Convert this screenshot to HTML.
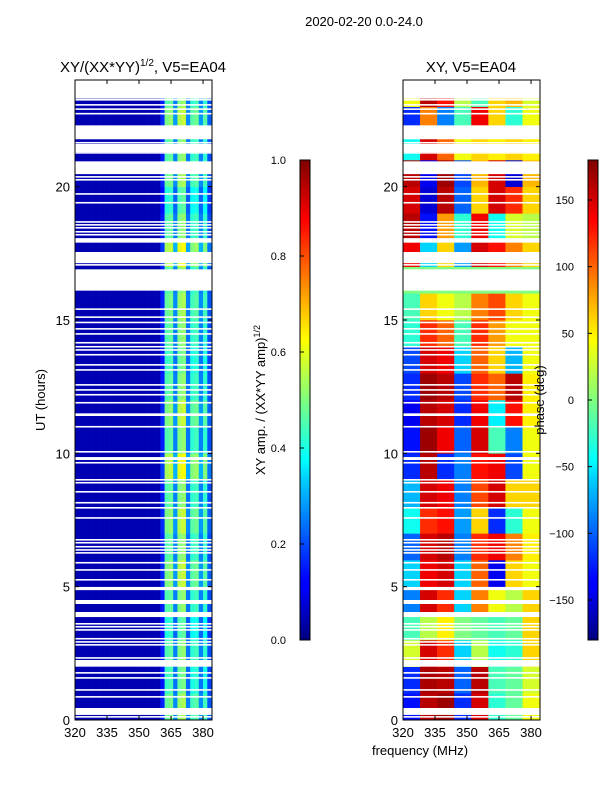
<!DOCTYPE html>
<html><head><meta charset="utf-8"><style>
body{margin:0;background:#fff;}
svg{display:block;font-family:"Liberation Sans",sans-serif;}
</style></head><body>
<svg id="fig" width="600" height="800" xmlns="http://www.w3.org/2000/svg">
<defs>
<linearGradient id="jet" x1="0" y1="1" x2="0" y2="0">
<stop offset="0" stop-color="#00007f"/><stop offset="0.11" stop-color="#0000ff"/><stop offset="0.125" stop-color="#0000ff"/>
<stop offset="0.34" stop-color="#00d4ff"/><stop offset="0.375" stop-color="#00ffff"/><stop offset="0.5" stop-color="#7fff7f"/>
<stop offset="0.625" stop-color="#ffff00"/><stop offset="0.66" stop-color="#ffdd00"/><stop offset="0.875" stop-color="#ff0000"/><stop offset="1" stop-color="#7f0000"/>
</linearGradient>
</defs>
<text x="364" y="26" font-size="13" text-anchor="middle">2020-02-20 0.0-24.0</text>
<text x="143" y="72" font-size="15" text-anchor="middle">XY/(XX*YY)<tspan font-size="10" dy="-6">1/2</tspan><tspan dy="6">, V5=EA04</tspan></text>
<text x="471" y="72" font-size="15" text-anchor="middle">XY, V5=EA04</text>
<text transform="translate(45,400) rotate(-90)" font-size="13" text-anchor="middle">UT (hours)</text>
<text transform="translate(265,400) rotate(-90)" font-size="13" text-anchor="middle">XY amp. / (XX*YY amp)<tspan font-size="9" dy="-5">1/2</tspan></text>
<text x="420" y="755" font-size="13" text-anchor="middle">frequency (MHz)</text>
<g id="amp"></g>
<g id="ph"></g>
<g id="axes"></g>
<text transform="translate(544,400) rotate(-90)" font-size="13" text-anchor="middle">phase (deg)</text>
</svg>
<script>
const freqTicks=[320,335,350,365,380];
const hourTicks=[0,5,10,15,20];
const ampTicks=[0.0,0.2,0.4,0.6,0.8,1.0];
const phaseTicks=[-150,-100,-50,0,50,100,150];
// amplitude spectral profile, 2 MHz bins from 320 to 384
const ampProfile=[0.05,0.05,0.05,0.05,0.05,0.05,0.05,0.05,0.05,0.05,0.05,0.05,0.05,0.05,0.05,0.05,0.05,0.05,0.05,0.05,0.15,0.45,0.47,0.25,0.5,0.52,0.24,0.42,0.44,0.25,0.42,0.2];
// hourly amplitude scale factor (hour 0..23)
const ampHourScale=[1.05,0.95,1.0,0.9,1.0,1.1,1.0,1.1,1.0,1.2,1.0,1.1,1.0,0.95,1.0,1.05,1.0,1.2,1.0,0.9,1.05,1.0,1.1,1.0];
// phase (deg), rows hour 0..23, cols 8 MHz bins 320..384
const phaseGrid=[
[-130,160,170,-120,150,-30,-10,40],
[-120,165,160,-100,160,-20,-10,30],
[30,150,120,-60,20,-40,-30,60],
[-20,20,50,0,-10,-20,-10,60],
[-90,150,120,-60,90,40,20,60],
[-60,140,150,-60,100,-140,60,40],
[-100,150,160,-90,120,140,90,50],
[-40,120,130,-80,60,-120,-30,40],
[-70,150,140,-90,110,150,60,60],
[-120,160,-120,-90,130,140,-110,40],
[-130,170,140,-100,150,-20,-90,40],
[-140,160,150,-120,140,-50,130,50],
[-120,170,160,-110,120,100,160,50],
[-110,150,140,-60,100,60,-70,40],
[-30,120,100,-20,120,80,40,40],
[-20,60,40,20,90,110,60,40],
[0,0,0,0,0,0,0,0],
[140,-60,60,-80,150,130,90,60],
[160,-130,80,-30,140,-40,30,20],
[150,-150,160,-100,60,150,120,60],
[160,-140,170,-110,70,150,-150,70],
[-40,150,100,40,60,50,60,50],
[-120,90,-90,-20,140,60,-30,40],
[40,160,130,20,-20,60,70,30]];
// flagged (blank) time intervals [start,end] hours
const flagStart=[23.3,21.8,21.3,20.47,17.9,17.13,16.1,11.4,9.75,4.87,4.35,3.86,2.0,0.19];
const flagEnd=[24.0,22.3,21.6,20.95,18.07,17.55,16.9,11.5,9.86,4.99,4.5,4.05,2.25,0.45];
// thin flagged integrations (hours)
const flagLines=[23.25,23.06,22.9,22.73,22.0,21.9,21.8,21.64,21.26,20.36,20.25,19.72,19.39,18.67,18.56,18.45,18.3,18.19,17.06,15.4,15.1,14.9,14.66,14.47,14.14,13.99,13.87,13.69,13.31,13.12,12.56,12.37,12.19,11.89,10.99,10.05,9.64,9.0,8.89,8.55,8.14,7.95,7.57,6.75,6.64,6.49,6.37,6.26,5.89,5.62,5.25,3.6,3.49,3.37,3.04,2.92,2.81,2.32,1.76,1.57,1.12,0.86,0.37,0.26,0.11];

const NS='http://www.w3.org/2000/svg';
const yTop=80,yBot=720,fmin=320,fmax=384.2;
const yH=h=>yBot-(h/24)*(yBot-yTop);
function xF(x0,x1,f){return x0+(f-fmin)/(fmax-fmin)*(x1-x0);}
function jet(v){v=Math.max(0,Math.min(1,v));const c=t=>Math.round(255*Math.max(0,Math.min(1,1.5-Math.abs(4*v-t))));return `rgb(${c(3)},${c(2)},${c(1)})`;}
function mk(tag,attrs,parent){const e=document.createElementNS(NS,tag);for(const k in attrs)e.setAttribute(k,attrs[k]);parent.appendChild(e);return e;}
const ampG=document.getElementById('amp'),phG=document.getElementById('ph'),axesG=document.getElementById('axes');
const L0=75,L1=212,R0=403,R1=540;
for(let h=0;h<24;h++){for(let j=0;j<ampProfile.length;j++){
 const f0=fmin+2*j,f1=f0+2;const v=ampProfile[j]>0.1?ampProfile[j]*ampHourScale[h]:ampProfile[j];
 const r=mk('rect',{x:xF(L0,L1,f0),y:yH(h+1),width:xF(L0,L1,f1)-xF(L0,L1,f0)+0.3,height:yH(h)-yH(h+1)+0.3,fill:jet(v)},ampG);
 
 
}}
for(let h=0;h<24;h++){for(let j=0;j<8;j++){
 const f0=fmin+8*j,f1=f0+8;const v=(phaseGrid[h][j]+180)/360;
 const r=mk('rect',{x:xF(R0,R1,f0),y:yH(h+1),width:xF(R0,R1,Math.min(f1,fmax))-xF(R0,R1,f0)+0.3,height:yH(h)-yH(h+1)+0.3,fill:jet(v)},phG);
 
 
}}
[[L0,L1,ampG],[R0,R1,phG]].forEach(([a,b,g])=>{
 for(let i=0;i<flagStart.length;i++){const r=mk('rect',{x:a,y:yH(flagEnd[i]),width:b-a,height:yH(flagStart[i])-yH(flagEnd[i]),fill:'#fff'},g);
  
  }
 flagLines.forEach(h=>{const r=mk('rect',{x:a,y:yH(h)-1,width:b-a,height:1.6,fill:'#fff'},g);
  
  });
});
function frame(a,b,name){
 const r=mk('rect',{x:a,y:yTop,width:b-a,height:yBot-yTop,fill:'none',stroke:'#000','stroke-width':1},axesG);
 
 
 freqTicks.forEach(f=>{const x=xF(a,b,f);
  mk('line',{x1:x,y1:yBot,x2:x,y2:yBot-4,stroke:'#000'},axesG);mk('line',{x1:x,y1:yTop,x2:x,y2:yTop+4,stroke:'#000'},axesG);
  const t=mk('text',{x:x,y:yBot+17,'font-size':13,'text-anchor':'middle'},axesG);t.textContent=f;
  
  });
 hourTicks.forEach(h=>{const y=yH(h);
  mk('line',{x1:a,y1:y,x2:a+4,y2:y,stroke:'#000'},axesG);mk('line',{x1:b,y1:y,x2:b-4,y2:y,stroke:'#000'},axesG);
  const t=mk('text',{x:a-5,y:y+5,'font-size':13,'text-anchor':'end'},axesG);t.textContent=h;
  
  });
}
frame(L0,L1,'amp-axes');frame(R0,R1,'phase-axes');
function cbar(x,ticks,lo,hi,name,fmt){
 const r=mk('rect',{x:x,y:160,width:10,height:480,fill:'url(#jet)',stroke:'#000','stroke-width':1},axesG);
 
 
 ticks.forEach(v=>{const y=640-(v-lo)/(hi-lo)*480;
  mk('line',{x1:x,y1:y,x2:x+4,y2:y,stroke:'#000'},axesG);
  const t=mk('text',{x:x-14,y:y+4,'font-size':11,'text-anchor':'end'},axesG);t.textContent=fmt(v);
  
  });
}
cbar(300,ampTicks,0,1,'amp-colorbar',v=>v.toFixed(1));
cbar(588,phaseTicks,-180,180,'phase-colorbar',v=>v<0?'\u2212'+(-v):String(v));
</script>
</body></html>
